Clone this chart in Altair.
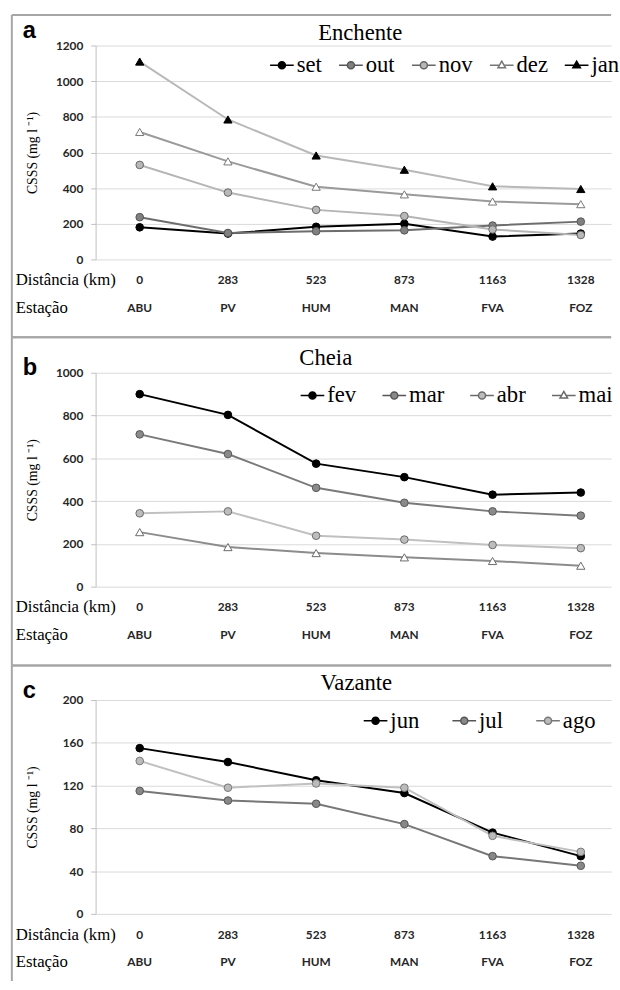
import altair as alt
import pandas as pd

# Gauging stations along the river and their distance from the first one (km)
stations = ["ABU", "PV", "HUM", "MAN", "FVA", "FOZ"]
distances_km = ["0", "283", "523", "873", "1163", "1328"]

# (a) Enchente - suspended sediment concentration, mg/L
set_vals = [180, 145, 183, 200, 128, 145]
out_vals = [237, 148, 158, 163, 190, 212]
nov_vals = [530, 375, 278, 243, 168, 137]
dez_vals = [715, 550, 408, 365, 325, 310]
jan_vals = [1110, 785, 583, 503, 410, 395]

# (b) Cheia
fev_vals = [900, 803, 575, 512, 430, 440]
mar_vals = [712, 620, 462, 392, 352, 332]
abr_vals = [343, 352, 238, 220, 195, 180]
mai_vals = [255, 185, 157, 137, 120, 98]

# (c) Vazante
jun_vals = [155, 142, 125, 113, 76, 54]
jul_vals = [115, 106, 103, 84, 54, 45]
ago_vals = [143, 118, 122, 118, 73, 58]

SERIF = "Liberation Serif"
SANS = "Lato"
W, H = 523, 217
X_DOMAIN = [-0.5, 5.344]
FRAME = "#a6a6a6"

# legend keys: a short line with the marker in the middle
CIRCLE_KEY = "M-1,0H-0.3M0.3,0H1M-0.3,0A0.3,0.3,0,1,0,0.3,0A0.3,0.3,0,1,0,-0.3,0Z"
TRIANGLE_KEY = "M-1,0H-0.22M0.22,0H1M0,-0.34L0.32,0.22L-0.32,0.22Z"


def panel(letter, title, names, values, shapes, line_colors, line_widths, fills, strokes,
          ymax, yticks, title_dx, title_y, letter_y, frame_top, frame_bottom,
          bottom_line, legend_x, legend_y, col_pad):
    rows = []
    for name, vals in zip(names, values):
        for i, v in enumerate(vals):
            rows.append({"serie": name, "idx": i, "valor": v})
    df = pd.DataFrame(rows)
    axis_df = pd.DataFrame({"idx": list(range(len(stations))),
                            "estacao": stations, "dist": distances_km})
    one = pd.DataFrame({"k": [0]})

    circles = [n for n, s in zip(names, shapes) if s == "circle"]
    triangles = [n for n, s in zip(names, shapes) if s == "triangle-up"]
    keys = [CIRCLE_KEY if s == "circle" else TRIANGLE_KEY for s in shapes]

    legend = alt.Legend(title=None, orient="none", legendX=legend_x, legendY=legend_y,
                        direction="horizontal", labelFont=SERIF, labelFontSize=23,
                        labelColor="black", labelOffset=2, symbolSize=576,
                        symbolStrokeWidth=1.5, columnPadding=col_pad, padding=0)
    fill_scale = alt.Scale(domain=names, range=fills)
    stroke_scale = alt.Scale(domain=names, range=strokes)
    shape_scale = alt.Scale(domain=names, range=keys)
    # line styles are listed in reverse so their (legend-less) scales stay apart
    # from the fill/stroke/shape scales that build the key
    line_scale = alt.Scale(domain=names[::-1], range=line_colors[::-1])
    width_scale = alt.Scale(domain=names[::-1], range=line_widths[::-1])

    x = alt.X("idx:Q", scale=alt.Scale(domain=X_DOMAIN, nice=False, zero=False), axis=None)
    y = alt.Y("valor:Q", scale=alt.Scale(domain=[0, ymax], nice=False),
              axis=alt.Axis(values=yticks, format="d", title="CSSS (mg l ⁻¹)",
                            titleFont=SERIF, titleFontSize=14, titleFontWeight="normal",
                            titleColor="black", titleAngle=270, titleX=-64, titleY=H / 2,
                            titleAlign="center", titleBaseline="middle", labelFont=SANS,
                            labelFontWeight="bold", labelFontSize=12, labelColor="#262626",
                            labelPadding=8, tickSize=5, tickColor="#bfbfbf",
                            domainColor="#bfbfbf", gridColor="#d9d9d9", grid=True))

    base = alt.Chart(df)
    lines = base.mark_line().encode(
        x=x, y=y,
        color=alt.Color("serie:N", scale=line_scale, legend=None),
        size=alt.Size("serie:N", scale=width_scale, legend=None))

    fill = alt.Fill("serie:N", scale=fill_scale, legend=legend)
    stroke = alt.Stroke("serie:N", scale=stroke_scale, legend=legend)

    layers = []
    # panel frame
    layers.append(alt.Chart(one).mark_rule(color=FRAME, strokeWidth=2).encode(
        x=alt.value(-85), x2=alt.value(W), y=alt.value(frame_top)))
    layers.append(alt.Chart(one).mark_rule(color=FRAME, strokeWidth=2).encode(
        x=alt.value(-85), y=alt.value(frame_top), y2=alt.value(frame_bottom)))
    if bottom_line:
        layers.append(alt.Chart(one).mark_rule(color=FRAME, strokeWidth=2).encode(
            x=alt.value(-85), x2=alt.value(W), y=alt.value(frame_bottom)))

    layers.append(lines)
    layers.append(base.transform_filter(alt.FieldOneOfPredicate(field="serie", oneOf=circles))
                  .mark_point(shape="circle", filled=True, size=60, strokeWidth=1, opacity=1)
                  .encode(x=x, y=y, fill=fill, stroke=stroke))
    if triangles:
        layers.append(base.transform_filter(alt.FieldOneOfPredicate(field="serie", oneOf=triangles))
                      .mark_point(shape="triangle-up", filled=True, size=70, strokeWidth=1, opacity=1)
                      .encode(x=x, y=y, fill=fill, stroke=stroke))
    # legend entries only
    layers.append(base.transform_filter("false")
                  .mark_point(filled=True, opacity=1)
                  .encode(x=x, y=y, fill=fill, stroke=stroke,
                          shape=alt.Shape("serie:N", scale=shape_scale, legend=legend)))

    # two label rows under the plot: distance and station
    layers.append(alt.Chart(axis_df).mark_text(font=SANS, fontWeight="bold", fontSize=12,
                                               color="#262626").encode(
        x=x, y=alt.value(H + 21), text="dist:N"))
    layers.append(alt.Chart(axis_df).mark_text(font=SANS, fontWeight="bold", fontSize=12,
                                               color="#262626").encode(
        x=x, y=alt.value(H + 49), text="estacao:N"))
    for txt, dy in (("Distância (km)", 21), ("Estação", 49)):
        layers.append(alt.Chart(one).mark_text(align="left", font=SERIF, fontSize=17,
                                               color="black").encode(
            x=alt.value(-81), y=alt.value(H + dy), text=alt.value(txt)))
    # panel letter and season title
    layers.append(alt.Chart(one).mark_text(align="left", baseline="middle",
                                           font="Liberation Sans", fontWeight="bold",
                                           fontSize=24, color="black").encode(
        x=alt.value(-74), y=alt.value(letter_y), text=alt.value(letter)))
    layers.append(alt.Chart(one).mark_text(align="center", baseline="alphabetic",
                                           font=SERIF, fontSize=23, color="black").encode(
        x=alt.value(W / 2 + title_dx), y=alt.value(title_y), text=alt.value(title)))

    return alt.layer(*layers).properties(width=W, height=H)


pa = panel("a", "Enchente", ["set", "out", "nov", "dez", "jan"],
           [set_vals, out_vals, nov_vals, dez_vals, jan_vals],
           ["circle", "circle", "circle", "triangle-up", "triangle-up"],
           ["#000000", "#6d6d6d", "#b5b5b5", "#9a9a9a", "#b8b8b8"],
           [2.6, 2, 2, 2, 2],
           ["#000000", "#808080", "#b8b8b8", "#ffffff", "#000000"],
           ["#000000", "#555555", "#666666", "#777777", "#000000"],
           1200, [0, 200, 400, 600, 800, 1000, 1200], 7, -6, -15, -31, 296, True,
           176, 7, 14)

pb = panel("b", "Cheia", ["fev", "mar", "abr", "mai"],
           [fev_vals, mar_vals, abr_vals, mai_vals],
           ["circle", "circle", "circle", "triangle-up"],
           ["#000000", "#7a7a7a", "#c0c0c0", "#8c8c8c"],
           [2.6, 2, 2, 2],
           ["#000000", "#8a8a8a", "#bdbdbd", "#ffffff"],
           ["#000000", "#555555", "#6a6a6a", "#6a6a6a"],
           1000, [0, 200, 400, 600, 800, 1000], -28, -8, -5, -36, 297, True,
           207, 10, 23)

pc = panel("c", "Vazante", ["jun", "jul", "ago"],
           [jun_vals, jul_vals, ago_vals],
           ["circle", "circle", "circle"],
           ["#000000", "#777777", "#c0c0c0"],
           [2.6, 2, 2],
           ["#000000", "#888888", "#bbbbbb"],
           ["#000000", "#555555", "#777777"],
           200, [0, 40, 80, 120, 160, 200], 3, -10, -9, -35, 285, False,
           271, 8, 30)

chart = alt.vconcat(pa, pb, pc, spacing=115, bounds="flush").resolve_scale(
    x="independent", y="independent", color="independent", fill="independent",
    stroke="independent", shape="independent", size="independent").resolve_legend(
    fill="independent", stroke="independent", shape="independent").properties(
    padding={"left": 11, "top": 7, "right": 0, "bottom": 0}
).configure_view(stroke=None)

chart.save("out.html", embed_options={"renderer": "svg", "actions": False})
